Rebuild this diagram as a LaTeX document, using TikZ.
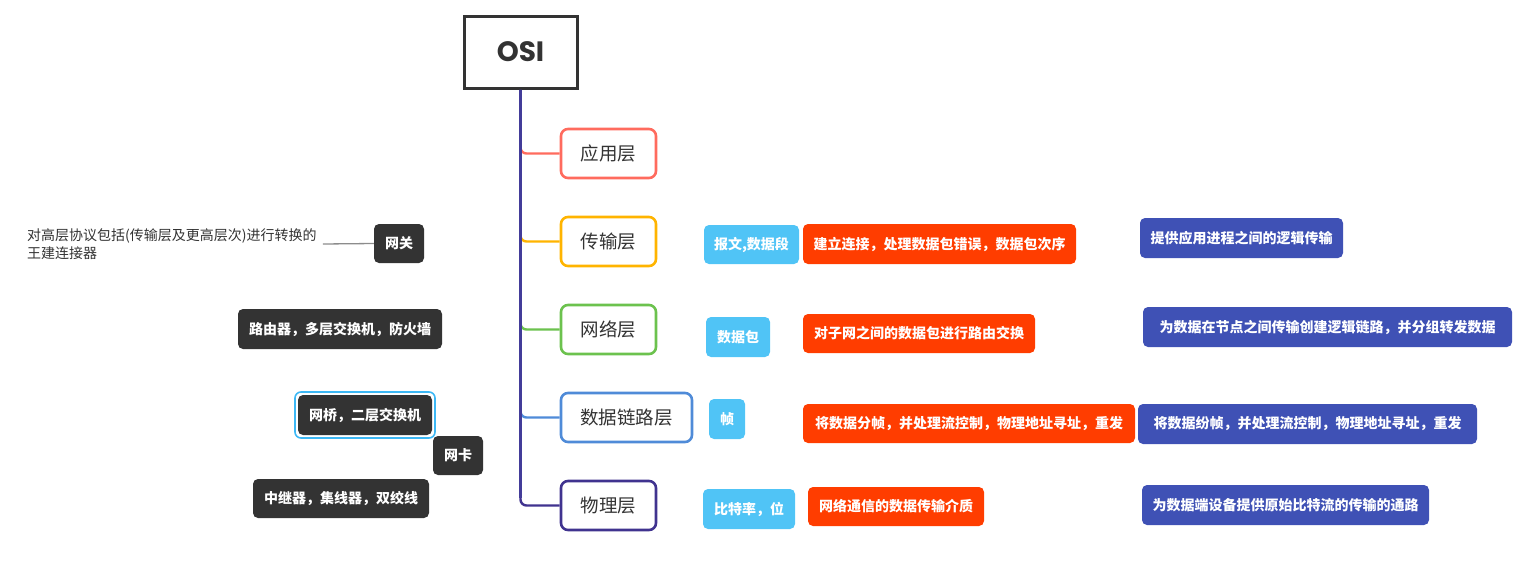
\documentclass[tikz,border=0pt]{standalone}
\usepackage{fontspec}
\setmainfont{Noto Sans CJK SC}
\newfontfamily\osifont{Poppins}
\definecolor{cSalmon}{HTML}{FF6B5E}
\definecolor{cAmber}{HTML}{FFB400}
\definecolor{cGreen}{HTML}{6CC24E}
\definecolor{cBlue}{HTML}{4F8BD8}
\definecolor{cPurple}{HTML}{40338F}
\definecolor{cTrunk}{HTML}{433C99}
\definecolor{cLight}{HTML}{50C4F6}
\definecolor{cOrange}{HTML}{FF3D00}
\definecolor{cIndigo}{HTML}{3F51B5}
\definecolor{cDark}{HTML}{333333}
\definecolor{cSel}{HTML}{3DB8F5}
\definecolor{cText}{HTML}{333333}
\begin{document}
\begin{tikzpicture}[x=1pt,y=-1pt,
  layer/.style={draw=#1, line width=2.6pt, rounded corners=7pt, fill=white, minimum height=49pt, inner sep=0pt, text=cText, font=\fontsize{18.5}{20}\selectfont},
  tagbox/.style={fill=#1, rounded corners=5pt, minimum height=40pt, inner sep=0pt, text=white, font=\fontsize{14}{16}\selectfont\bfseries},
  branch/.style={draw=#1, line width=2.4pt, rounded corners=6pt},
]
\useasboundingbox (0,0) rectangle (1527,571);
% root
\node[draw=cDark, line width=3pt, minimum width=113pt, minimum height=72pt, inner sep=0pt, text=cText, font=\osifont\fontsize{28}{30}\selectfont\bfseries] (osi) at (520.5,52) {OSI};
% layers
\node[layer=cSalmon, minimum width=95pt] (app) at (608.5,153.5) {应用层};
\node[layer=cAmber, minimum width=95pt] (trans) at (608.5,241.5) {传输层};
\node[layer=cGreen, minimum width=95pt] (net) at (608.5,329.5) {网络层};
\node[layer=cBlue, minimum width=131pt] (dl) at (626.5,417.5) {数据链路层};
\node[layer=cPurple, minimum width=95pt] (phy) at (608.5,505.5) {物理层};
% branches
\draw[branch=cSalmon] ([yshift=12pt]osi.south |- app.west) -- (osi.south |- app.west) -- (app.west);
\draw[branch=cAmber] ([yshift=12pt]osi.south |- trans.west) -- (osi.south |- trans.west) -- (trans.west);
\draw[branch=cGreen] ([yshift=12pt]osi.south |- net.west) -- (osi.south |- net.west) -- (net.west);
\draw[branch=cBlue] ([yshift=12pt]osi.south |- dl.west) -- (osi.south |- dl.west) -- (dl.west);
\draw[branch=cPurple] (osi.south) -- (osi.south |- phy.west) -- (phy.west);
\draw[draw=cTrunk, line width=2.4pt] (osi.south) -- ([yshift=8pt]osi.south |- phy.west);
% light blue tags
\node[tagbox=cLight, minimum width=95pt, minimum height=39pt] (lb1) at (751.5,244.5) {报文,数据段};
\node[tagbox=cLight, minimum width=64pt] (lb2) at (738,337) {数据包};
\node[tagbox=cLight, minimum width=36pt] (lb3) at (727,419) {帧};
\node[tagbox=cLight, minimum width=92pt] (lb4) at (749,509) {比特率，位};
% orange
\node[tagbox=cOrange, minimum width=273pt] (or1) at (939.5,244) {建立连接，处理数据包错误，数据包次序};
\node[tagbox=cOrange, minimum width=232pt, minimum height=39pt] (or2) at (919,333.5) {对子网之间的数据包进行路由交换};
\node[tagbox=cOrange, minimum width=332pt, minimum height=39pt] (or3) at (969,423.5) {将数据分帧，并处理流控制，物理地址寻址，重发};
\node[tagbox=cOrange, minimum width=176pt, minimum height=39pt] (or4) at (896,506.5) {网络通信的数据传输介质};
% indigo
\node[tagbox=cIndigo, minimum width=203pt] (ib1) at (1241.5,238) {提供应用进程之间的逻辑传输};
\node[tagbox=cIndigo, minimum width=369pt] (ib2) at (1327.5,327) {为数据在节点之间传输创建逻辑链路，并分组转发数据};
\node[tagbox=cIndigo, minimum width=339pt] (ib3) at (1307.5,424) {将数据纷帧，并处理流控制，物理地址寻址，重发};
\node[tagbox=cIndigo, minimum width=287pt] (ib4) at (1285.5,505) {为数据端设备提供原始比特流的传输的通路};
% left dark boxes
\node[tagbox=cDark, minimum width=50pt, minimum height=39pt] (gw) at (399,243.5) {网关};
\node[tagbox=cDark, minimum width=204pt] (rt) at (340,329) {路由器，多层交换机，防火墙};
\node[draw=cSel, line width=1.6pt, rounded corners=6pt, minimum width=140pt, minimum height=46pt, inner sep=0pt] (sel) at (365,415) {};
\node[tagbox=cDark, minimum width=134pt] (br) at (365,415) {网桥，二层交换机};
\node[tagbox=cDark, minimum width=50pt, minimum height=39pt] (nic) at (458,455.5) {网卡};
\node[tagbox=cDark, minimum width=176pt, minimum height=39pt] (rep) at (341,498.5) {中继器，集线器，双绞线};
% note
\node[anchor=west, align=left, inner sep=0pt, text=cText, font=\fontsize{14}{18}\selectfont] (note) at (27,244) {对高层协议包括(传输层及更高层次)进行转换的\\王建连接器};
\draw[draw=gray!90, line width=1.3pt] ([xshift=6pt]note.east) -- (gw.west);
\end{tikzpicture}
\end{document}
